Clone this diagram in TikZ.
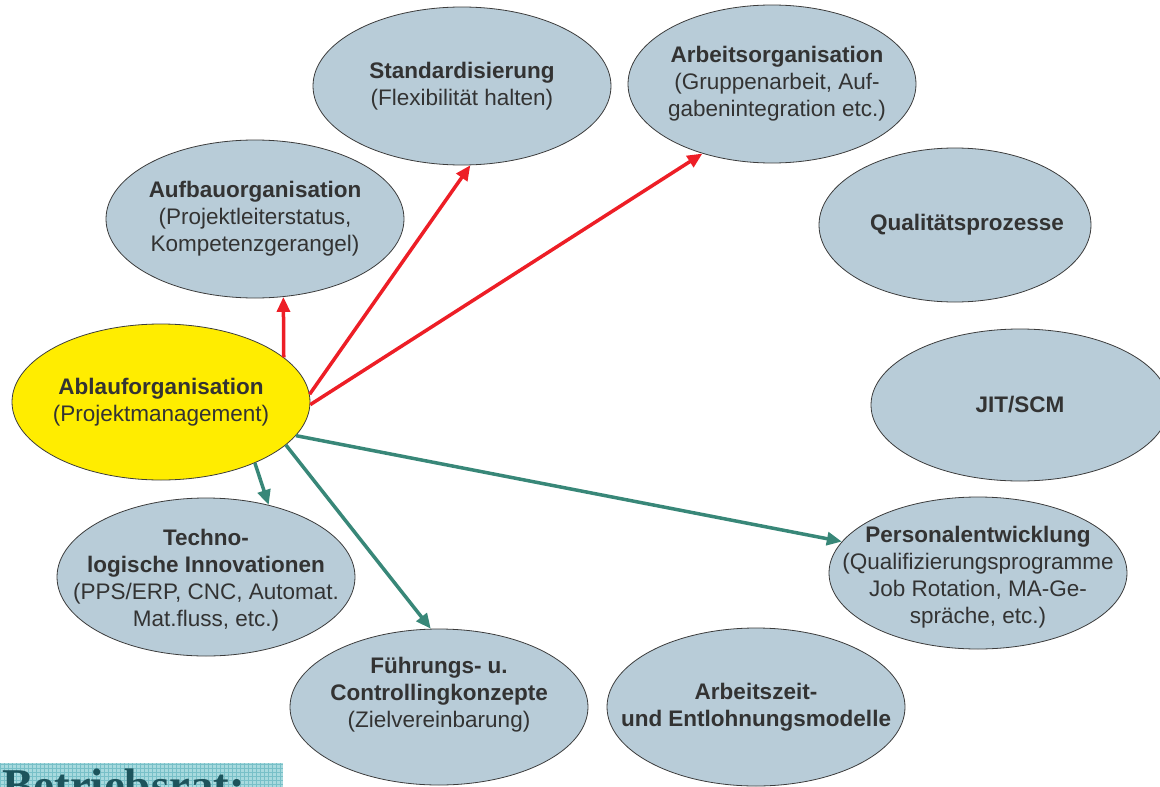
\documentclass[tikz,border=0pt]{standalone}
\usepackage{fontspec}
\setmainfont{Liberation Sans}
\newfontfamily\serifbold{Liberation Serif}
\usetikzlibrary{shapes.geometric,arrows.meta}
\definecolor{bluegray}{RGB}{184,204,216}
\definecolor{txtgray}{RGB}{51,51,51}
\definecolor{edgegray}{RGB}{60,60,60}
\definecolor{ylw}{RGB}{255,237,0}
\definecolor{redarr}{RGB}{237,30,38}
\definecolor{greenarr}{RGB}{56,135,120}
\definecolor{tealbg}{RGB}{168,218,222}
\definecolor{tealgrid}{RGB}{120,192,200}
\definecolor{tealtxt}{RGB}{28,84,92}
\tikzset{
  ell/.style={ellipse, draw=edgegray, line width=0.8pt, fill=bluegray,
    minimum width=298pt, minimum height=158pt, inner sep=0pt},
  yell/.style={ell, fill=ylw},
  txt/.style={align=center, inner sep=0pt, text=txtgray,
    font=\fontsize{22.5}{27}\selectfont},
  redconn/.style={draw=redarr, line width=3.5pt,
    -{Triangle[length=15pt,width=13pt]}},
  greenconn/.style={draw=greenarr, line width=3.5pt,
    -{Triangle[length=15pt,width=13pt]}}
}
\begin{document}
\begin{tikzpicture}[x=1pt,y=-1pt]
\useasboundingbox (0,0) rectangle (1160,787);
\clip (0,0) rectangle (1160,787);

% nodes
\node[ell] (std) at (462,86) {};
\node[txt] at (std.center) {\textbf{Standardisierung}\\(Flexibilität halten)};
\node[ell, minimum width=288pt] (arb) at (772,84) {};
\node[txt] at ([xshift=5pt]arb.center) {\textbf{Arbeitsorganisation}\\(Gruppenarbeit, Auf-\\gabenintegration etc.)};
\node[ell] (auf) at (255,219) {};
\node[txt] at (auf.center) {\textbf{Aufbauorganisation}\\(Projektleiterstatus,\\Kompetenzgerangel)};
\node[ell, minimum width=272pt, minimum height=154pt] (qual) at (955,225) {};
\node[txt] at ([xshift=12pt]qual.center) {\textbf{Qualitätsprozesse}};
\node[yell, minimum height=156pt] (abl) at (161,402) {};
\node[txt] at (abl.center) {\textbf{Ablauforganisation}\\(Projektmanagement)};
\node[ell, minimum height=152pt] (jit) at (1020,405) {};
\node[txt] at (jit.center) {\textbf{JIT/SCM}};
\node[ell] (tech) at (206,577) {};
\node[txt] at ([yshift=-3pt]tech.center) {\textbf{Techno-}\\\textbf{logische Innovationen}\\(PPS/ERP, CNC, Automat.\\Mat.fluss, etc.)};
\node[ell, minimum height=152pt] (pers) at (978,573) {};
\node[txt] at ([yshift=-4pt]pers.center) {\textbf{Personalentwicklung}\\(Qualifizierungsprogramme\\Job Rotation, MA-Ge-\\spräche, etc.)};
\node[ell, minimum height=156pt] (fueh) at (439,707) {};
\node[txt] at ([yshift=12pt]fueh.center) {\textbf{Führungs- u.}\\\textbf{Controllingkonzepte}\\(Zielvereinbarung)};
\node[ell] (az) at (756,707) {};
\node[txt] at (az.center) {\textbf{Arbeitszeit-}\\\textbf{und Entlohnungsmodelle}};

% connectors
\draw[redconn] (abl.20.4) -- (auf.-70.9);
\draw[redconn] (abl.3.4) -- (std.-84);
\draw[redconn] (abl.-1.1) -- (arb.-135);
\draw[greenconn] (abl.-33.5) -- (tech.49.4);
\draw[greenconn] (abl.-19.1) -- (fueh.96.8);
\draw[greenconn] (abl.-14.6) -- (pers.167.5);

% Betriebsrat banner (cut off at bottom, as in the reference)
\fill[tealbg] (0,763) rectangle (283,787);
\draw[tealgrid, line width=0.6pt, step=4pt] (0,763) grid (283,787);
\node[anchor=base west, inner sep=0pt, text=tealtxt,
  font=\serifbold\bfseries\fontsize{47}{50}\selectfont] (br) at (2,801) {Betriebsrat:};
\end{tikzpicture}
\end{document}
